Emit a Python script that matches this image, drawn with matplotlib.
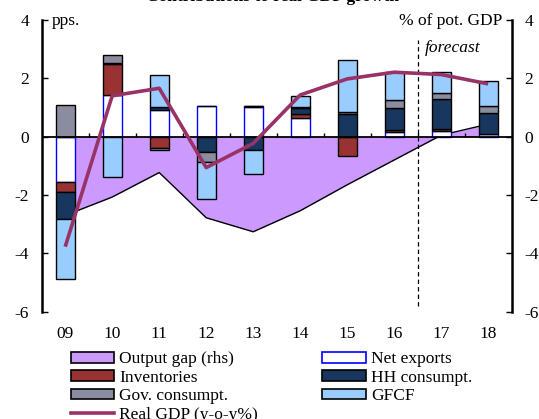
import numpy as np
import matplotlib
matplotlib.use("Agg")
import matplotlib.pyplot as plt
from matplotlib.patches import Patch
from matplotlib.lines import Line2D

plt.rcParams["font.family"] = ["Liberation Serif", "DejaVu Serif"]
plt.rcParams["axes.unicode_minus"] = False

# ---- data (pps. / % of potential GDP) ----
years = ["09", "10", "11", "12", "13", "14", "15", "16", "17", "18"]
net_exports = [-1.55, 1.43, 0.93, 1.06, 1.00, 0.63, 0.00, 0.17, 0.20, 0.09]
inventories = [-0.33, 1.05, -0.38, 0.00, 0.06, 0.15, -0.66, 0.07, 0.08, 0.00]
hh_consumpt = [-0.95, 0.03, 0.07, -0.52, -0.46, 0.20, 0.77, 0.75, 1.01, 0.71]
gov_consumpt = [1.10, 0.29, -0.08, -0.34, 0.00, 0.03, 0.08, 0.27, 0.20, 0.25]
gfcf = [-2.05, -1.39, 1.13, -1.29, -0.83, 0.40, 1.77, 0.95, 0.73, 0.87]
real_gdp = [-3.77, 1.40, 1.66, -1.06, -0.23, 1.43, 1.98, 2.21, 2.13, 1.81]
output_gap = [-2.70, -2.07, -1.23, -2.78, -3.26, -2.54, -1.65, -0.80, 0.05, 0.43]
forecast_start = 7.5   # between 16 and 17

fs = 12.5
x = np.arange(len(years))

fig = plt.figure(figsize=(5.39, 4.19), dpi=100)
ax = fig.add_axes([0.0774, 0.2561, 0.8719, 0.6962])

# output gap area (behind the bars)
ax.fill_between(x, output_gap, 0, color="#CC99FF", lw=0, zorder=1)
ax.plot(x, output_gap, color="black", lw=1.0, zorder=1.5)

# stacked bars, positives and negatives stacked separately
series = [
    (net_exports, "white", "#0000FF"),
    (inventories, "#993333", "black"),
    (hh_consumpt, "#17375E", "black"),
    (gov_consumpt, "#8C8CA0", "black"),
    (gfcf, "#99CCFF", "black"),
]
pos = np.zeros(len(years))
neg = np.zeros(len(years))
for vals, fc, ec in series:
    v = np.array(vals)
    bottom = np.where(v >= 0, pos, neg)
    ax.bar(x, v, 0.4, bottom=bottom, color=fc, edgecolor=ec, lw=1.0, zorder=2)
    pos = pos + np.clip(v, 0, None)
    neg = neg + np.clip(v, None, 0)

ax.axhline(0, color="black", lw=1.3, zorder=3)
ax.vlines(np.arange(0.5, len(years) - 1, 1), 0, 0.14, color="black", lw=1.0, zorder=3)

ax.plot(x, real_gdp, color="#993366", lw=2.6, zorder=4, solid_capstyle="butt")

# forecast marker
ax.plot([forecast_start, forecast_start], [-5.8, 3.3], color="black", lw=0.9,
        ls=(0, (3.5, 2.5)), zorder=3)
ax.text(forecast_start + 0.16, 3.05, "forecast", style="italic", fontsize=fs,
        ha="left", va="center")

ax.set_xlim(-0.5, len(years) - 0.5)
ax.set_ylim(-6, 4)
ax.set_yticks([-6, -4, -2, 0, 2, 4])
ax.set_xticks(x)
ax.set_xticklabels(years)
ax.tick_params(axis="x", length=0, pad=10, labelsize=fs)
ax.tick_params(axis="y", direction="in", length=4, width=1.0, labelsize=fs, pad=9,
               left=True, right=True, labelright=True)
ax.spines["top"].set_visible(False)
ax.spines["bottom"].set_visible(False)
ax.spines["left"].set_linewidth(1.8)
ax.spines["right"].set_linewidth(1.8)

ax.text(0.022, 0.995, "pps.", transform=ax.transAxes, fontsize=fs, ha="left", va="center")
ax.text(0.98, 0.995, "% of pot. GDP", transform=ax.transAxes, fontsize=fs,
        ha="right", va="center")

fig.text(0.506, 0.9965, "Contributions to real GDP growth", fontsize=fs,
         fontweight="bold", ha="center", va="baseline")

handles = [
    Patch(facecolor="#CC99FF", edgecolor="black", lw=1.2),
    Patch(facecolor="#993333", edgecolor="black", lw=1.2),
    Patch(facecolor="#8C8CA0", edgecolor="black", lw=1.2),
    Line2D([0], [0], color="#993366", lw=2.6),
    Patch(facecolor="white", edgecolor="#0000FF", lw=1.2),
    Patch(facecolor="#17375E", edgecolor="black", lw=1.2),
    Patch(facecolor="#99CCFF", edgecolor="black", lw=1.2),
]
labels = ["Output gap (rhs)", "Inventories", "Gov. consumpt.", "Real GDP (y-o-y%)",
          "Net exports", "HH consumpt.", "GFCF"]
fig.legend(handles, labels, loc="upper left", bbox_to_anchor=(0.115, 0.182), ncol=2,
           frameon=False, fontsize=fs, handlelength=2.5, handleheight=0.55,
           handletextpad=0.3, labelspacing=0.14, columnspacing=3.7, borderpad=0)

fig.savefig("out.png", dpi=100)
